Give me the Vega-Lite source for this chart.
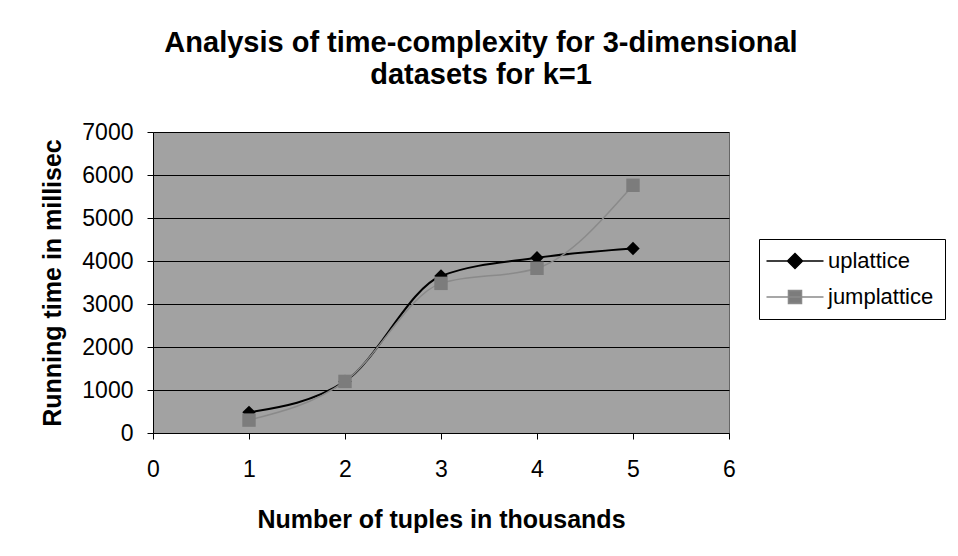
{
  "$schema": "https://vega.github.io/schema/vega-lite/v6.json",
  "autosize": {"type": "none"},
  "width": 576,
  "height": 301,
  "padding": {"left": 153, "top": 132, "right": 229, "bottom": 123},
  "background": "white",
  "title": {
    "text": ["Analysis of time-complexity for 3-dimensional", "datasets for k=1"],
    "font": "Liberation Sans",
    "fontSize": 29,
    "fontWeight": "bold",
    "color": "black",
    "anchor": "middle",
    "dx": 40,
    "offset": 31,
    "lineHeight": 32
  },
  "config": {
    "font": "Liberation Sans",
    "view": {"fill": "#a2a2a2", "stroke": "#666666"}
  },
  "data": {
    "values": [
      {"series": "uplattice", "n": 1, "ms": 480},
      {"series": "uplattice", "n": 2, "ms": 1200},
      {"series": "uplattice", "n": 3, "ms": 3650},
      {"series": "uplattice", "n": 4, "ms": 4075},
      {"series": "uplattice", "n": 5, "ms": 4290},
      {"series": "jumplattice", "n": 1, "ms": 300},
      {"series": "jumplattice", "n": 2, "ms": 1200},
      {"series": "jumplattice", "n": 3, "ms": 3480},
      {"series": "jumplattice", "n": 4, "ms": 3830},
      {"series": "jumplattice", "n": 5, "ms": 5760}
    ]
  },
  "encoding": {
    "x": {
      "field": "n",
      "type": "quantitative",
      "scale": {"domain": [0, 6], "nice": false},
      "axis": {
        "values": [0, 1, 2, 3, 4, 5, 6],
        "grid": false,
        "labelFontSize": 23,
        "labelColor": "black",
        "labelFlush": false,
        "labelPadding": 19,
        "tickSize": 6,
        "tickColor": "black",
        "domainColor": "black",
        "title": "Number of tuples in thousands",
        "titleFontSize": 25,
        "titleFontWeight": "bold",
        "titleColor": "black",
        "titlePadding": 26
      }
    },
    "y": {
      "field": "ms",
      "type": "quantitative",
      "scale": {"domain": [0, 7000], "nice": false},
      "axis": {
        "values": [0, 1000, 2000, 3000, 4000, 5000, 6000, 7000],
        "format": "d",
        "grid": true,
        "gridColor": "black",
        "gridOpacity": 1,
        "gridWidth": 1,
        "labelFontSize": 23,
        "labelColor": "black",
        "labelPadding": 14,
        "tickSize": 6,
        "tickColor": "black",
        "domainColor": "black",
        "title": "Running time in millisec",
        "titleFontSize": 25,
        "titleFontWeight": "bold",
        "titleColor": "black",
        "titlePadding": 16
      }
    }
  },
  "layer": [
    {
      "transform": [{"filter": "datum.series === 'uplattice'"}],
      "mark": {"type": "line", "interpolate": "monotone", "color": "#000000", "strokeWidth": 2}
    },
    {
      "transform": [{"filter": "datum.series === 'jumplattice'"}],
      "mark": {"type": "line", "interpolate": "monotone", "color": "#8a8a8a", "strokeWidth": 1.5}
    },
    {
      "transform": [{"filter": "datum.series === 'uplattice'"}],
      "mark": {"type": "point", "shape": "diamond", "filled": true, "opacity": 1, "size": 180, "color": "#000000"}
    },
    {
      "transform": [{"filter": "datum.series === 'jumplattice'"}],
      "mark": {"type": "point", "shape": "square", "filled": true, "opacity": 1, "size": 180, "color": "#7c7c7c"}
    },
    {
      "transform": [{"filter": "datum.n > 100"}],
      "mark": {"type": "point", "opacity": 1, "strokeWidth": 1.5},
      "encoding": {
        "fill": {
          "field": "series",
          "type": "nominal",
          "scale": {"domain": ["uplattice", "jumplattice"], "range": ["#000000", "#7c7c7c"]}
        },
        "stroke": {
          "field": "series",
          "type": "nominal",
          "scale": {"domain": ["uplattice", "jumplattice"], "range": ["#000000", "#8a8a8a"]}
        },
        "shape": {
          "field": "series",
          "type": "nominal",
          "scale": {
            "domain": ["uplattice", "jumplattice"],
            "range": [
              "M-3.8,0L3.8,0M0,-1L1,0L0,1L-1,0Z",
              "M-3.8,0L3.8,0M-0.87,-0.87L0.87,-0.87L0.87,0.87L-0.87,0.87Z"
            ]
          },
          "legend": {
            "title": null,
            "orient": "none",
            "legendX": 606,
            "legendY": 107,
            "padding": 11,
            "strokeColor": "black",
            "fillColor": "white",
            "labelFontSize": 22,
            "labelColor": "black",
            "symbolSize": 225,
            "symbolOffset": 14,
            "labelOffset": 22,
            "rowPadding": 14,
            "symbolStrokeWidth": 1.5,
            "symbolOpacity": 1
          }
        }
      }
    }
  ]
}
